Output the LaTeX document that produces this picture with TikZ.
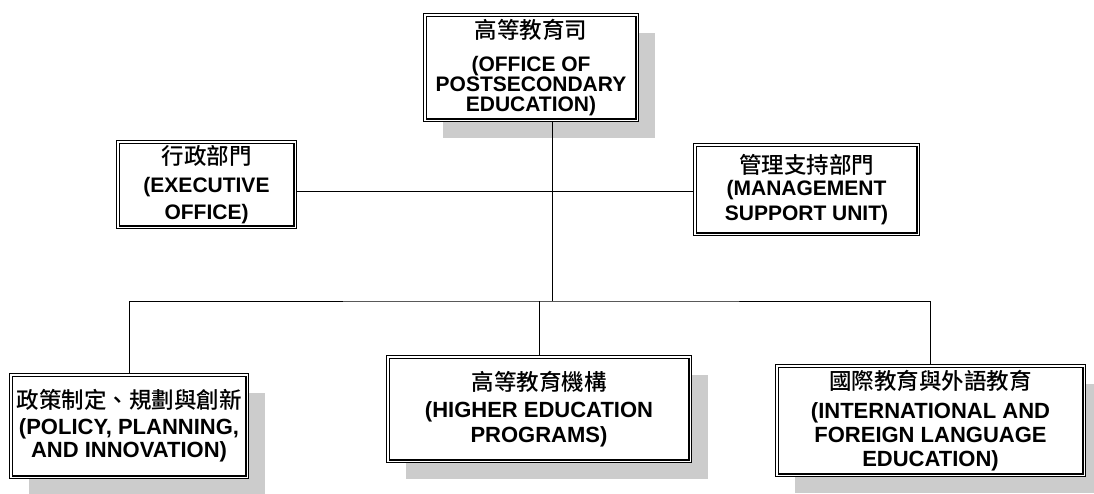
\documentclass[tikz,border=0pt]{standalone}
\usepackage{fontspec}
\setmainfont{Liberation Sans}
\newfontfamily\cjk{Noto Sans CJK TC Medium}
\usetikzlibrary{shadows}

\tikzset{
  unit/.style={rectangle, draw, line width=1.1pt, double, double distance=1.4pt,
    fill=white, align=center, inner sep=0pt, outer sep=1.8pt},
  shadowed/.style={drop shadow={shadow xshift=18pt, shadow yshift=-18pt,
    opacity=1, fill=black!20}},
  txt/.style 2 args={font=\fontsize{#1}{#2}\selectfont\bfseries},
  wire/.style={line width=1pt},
}
\newcommand{\zh}[1]{{\cjk\mdseries\fontsize{22.5}{22.5}\selectfont #1}}

\begin{document}
\begin{tikzpicture}[x=1pt, y=-1pt]
    \useasboundingbox (0,0) rectangle (1094,493);

    % ノード
    \node[unit, shadowed, txt={21}{20}, minimum width=212.4pt, minimum height=105.4pt] (OPE) at (531,67.5)
      {\zh{高等教育司}\\[13pt](OFFICE OF\\POSTSECONDARY\\EDUCATION)};
    \node[unit, txt={21}{27}, minimum width=177.4pt, minimum height=85.4pt] (EO) at (206.5,184.5)
      {\zh{行政部門}\\[1.5pt](EXECUTIVE\\OFFICE)};
    \node[unit, txt={21}{24.5}, minimum width=223.4pt, minimum height=89.4pt] (MSU) at (806.5,189.5)
      {\zh{管理支持部門}\\[-2pt](MANAGEMENT\\SUPPORT UNIT)};
    \node[unit, shadowed, txt={22}{23}, minimum width=236.4pt, minimum height=102.4pt] (PPI) at (129,426)
      {\zh{政策制定、規劃與創新}\\[3pt](POLICY, PLANNING,\\AND INNOVATION)};
    \node[unit, shadowed, txt={22}{25}, minimum width=302.4pt, minimum height=104.4pt] (HEP) at (539,409)
      {\zh{高等教育機構}\\[2pt](HIGHER EDUCATION\\PROGRAMS)};
    \node[unit, shadowed, txt={22}{24}, minimum width=307.4pt, minimum height=109.4pt] (IFLE) at (930.5,420.5)
      {\zh{國際教育與外語教育}\\[5pt](INTERNATIONAL AND\\FOREIGN LANGUAGE\\EDUCATION)};

    \coordinate (staff) at (552,191);
    \coordinate (hub) at (552,301);

    % エッジ
    \draw[wire] (OPE.south -| hub) -- (hub);
    \draw[wire] (EO.east |- staff) -- (MSU.west |- staff);
    \draw[wire] (PPI.north) |- (hub) -| (IFLE.north);
    \draw[wire] (HEP.north) -- (HEP.north |- hub);
\end{tikzpicture}
\end{document}
